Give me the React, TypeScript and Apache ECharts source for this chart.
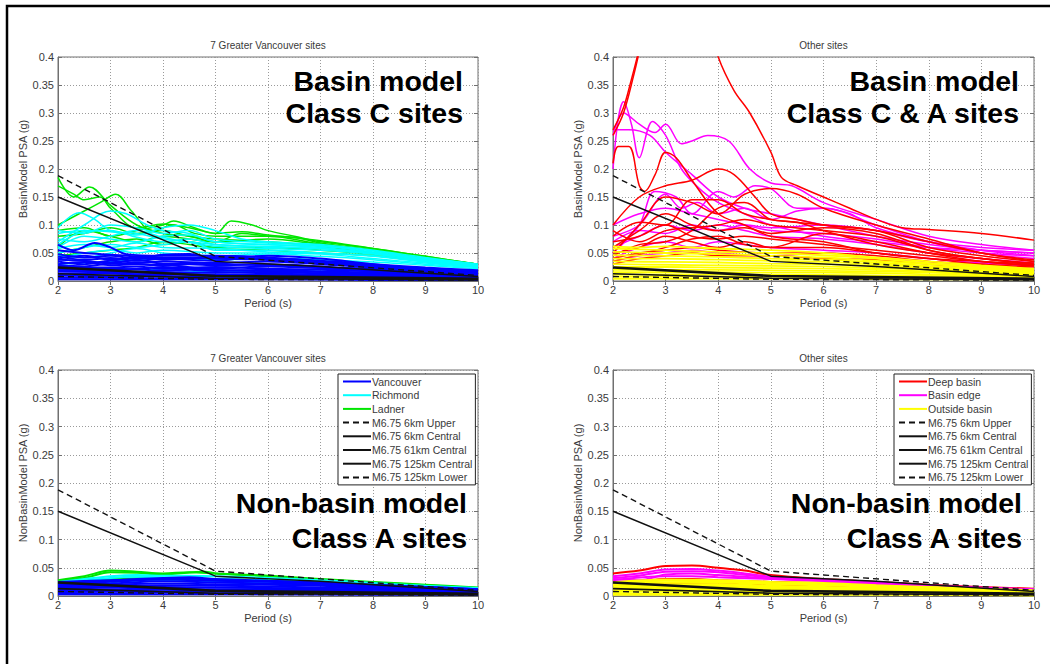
import React, { useEffect, useRef } from "react";
import * as echarts from "echarts";

type Curve = number[][];

// ---------- reference (design) spectra, [period s, PSA g] ----------
const M675_6KM_UPPER: Curve = [[2, 0.188], [5, 0.044], [10, 0.01]];
const M675_6KM_CENTRAL: Curve = [[2, 0.15], [5, 0.035], [7, 0.026], [10, 0.008]];
const M675_61KM_CENTRAL: Curve = [[2, 0.024], [5, 0.009], [10, 0.004]];
const M675_125KM_CENTRAL: Curve = [[2, 0.013], [5, 0.005], [10, 0.002]];
const M675_125KM_LOWER: Curve = [[2, 0.008], [5, 0.003], [10, 0.0015]];

const REF_NAMES = [
  "M6.75 6km Upper",
  "M6.75 6km Central",
  "M6.75 61km Central",
  "M6.75 125km Central",
  "M6.75 125km Lower",
];

// ---------- 7 Greater Vancouver sites, basin model ----------
const GV_BASIN_LADNER: Curve[] = [
  [[2, 0.185], [2.3, 0.15], [2.6, 0.168], [3, 0.135], [3.5, 0.1], [4, 0.085], [4.5, 0.08], [5, 0.07], [6, 0.075], [7, 0.065], [8, 0.055], [9, 0.04], [10, 0.028]],
  [[2, 0.1], [2.5, 0.125], [2.8, 0.14], [3.1, 0.155], [3.4, 0.125], [3.8, 0.09], [4.2, 0.1], [4.6, 0.085], [5, 0.08], [6, 0.08], [7, 0.066], [8, 0.055], [9, 0.042], [10, 0.03]],
  [[2, 0.17], [2.3, 0.155], [2.5, 0.145], [2.8, 0.15], [3, 0.13], [3.5, 0.095], [4, 0.102], [4.5, 0.095], [5, 0.085], [5.3, 0.107], [5.7, 0.1], [6, 0.09], [6.5, 0.08], [7, 0.07], [8, 0.058], [9, 0.044], [10, 0.03]],
  [[2, 0.09], [2.5, 0.095], [3, 0.08], [3.5, 0.09], [4, 0.1], [4.2, 0.107], [4.6, 0.095], [5, 0.085], [5.5, 0.088], [6, 0.082], [7, 0.072], [8, 0.058], [9, 0.044], [10, 0.03]],
  [[2, 0.06], [2.5, 0.09], [3, 0.08], [3.5, 0.07], [4, 0.08], [4.5, 0.075], [5, 0.07], [5.5, 0.085], [6, 0.08], [6.5, 0.078], [7, 0.068], [8, 0.055], [9, 0.042], [10, 0.03]],
  [[2, 0.05], [2.5, 0.06], [3, 0.07], [3.5, 0.075], [4, 0.065], [4.5, 0.07], [5, 0.06], [6, 0.06], [7, 0.055], [8, 0.048], [9, 0.038], [10, 0.027]],
  [[2, 0.045], [2.5, 0.05], [3, 0.055], [3.5, 0.06], [4, 0.07], [4.5, 0.065], [5, 0.058], [6, 0.055], [7, 0.05], [8, 0.045], [9, 0.035], [10, 0.026]],
  [[2, 0.08], [2.5, 0.085], [3, 0.095], [3.5, 0.085], [4, 0.09], [4.5, 0.08], [5, 0.075], [6, 0.07], [7, 0.062], [8, 0.05], [9, 0.04], [10, 0.028]],
];

const GV_BASIN_RICHMOND: Curve[] = [
  [[2, 0.095], [2.4, 0.122], [2.7, 0.11], [3, 0.09], [3.5, 0.085], [4, 0.075], [4.5, 0.07], [5, 0.065], [6, 0.06], [7, 0.058], [8, 0.05], [9, 0.038], [10, 0.028]],
  [[2, 0.07], [2.5, 0.1], [3, 0.125], [3.3, 0.12], [3.7, 0.1], [4, 0.09], [4.5, 0.085], [5, 0.07], [6, 0.065], [7, 0.062], [8, 0.052], [9, 0.04], [10, 0.03]],
  [[2, 0.085], [2.5, 0.09], [3, 0.088], [3.5, 0.082], [4, 0.095], [4.5, 0.1], [5, 0.09], [5.5, 0.075], [6, 0.07], [7, 0.065], [8, 0.055], [9, 0.042], [10, 0.03]],
  [[2, 0.06], [2.5, 0.08], [3, 0.075], [3.5, 0.07], [4, 0.08], [4.5, 0.082], [5, 0.07], [6, 0.065], [7, 0.06], [8, 0.05], [9, 0.04], [10, 0.028]],
  [[2, 0.075], [2.5, 0.07], [3, 0.08], [3.5, 0.09], [4, 0.078], [5, 0.062], [6, 0.058], [7, 0.055], [8, 0.048], [9, 0.036], [10, 0.027]],
  [[2, 0.05], [2.5, 0.06], [3, 0.065], [3.5, 0.06], [4, 0.065], [4.5, 0.07], [5, 0.055], [6, 0.055], [7, 0.05], [8, 0.045], [9, 0.035], [10, 0.026]],
  [[2, 0.04], [2.5, 0.05], [3, 0.055], [3.5, 0.05], [4, 0.055], [5, 0.05], [6, 0.05], [7, 0.048], [8, 0.04], [9, 0.032], [10, 0.025]],
  [[2, 0.045], [2.5, 0.042], [3, 0.05], [3.5, 0.058], [4, 0.05], [5, 0.045], [6, 0.048], [7, 0.044], [8, 0.038], [9, 0.03], [10, 0.024]],
  [[2, 0.065], [2.5, 0.088], [3, 0.09], [3.5, 0.078], [4, 0.07], [4.5, 0.075], [5, 0.065], [6, 0.062], [7, 0.058], [8, 0.05], [9, 0.038], [10, 0.028]],
  [[2, 0.03], [3, 0.035], [4, 0.04], [5, 0.038], [6, 0.04], [7, 0.038], [8, 0.034], [9, 0.028], [10, 0.022]],
  [[2, 0.058], [2.5, 0.065], [3, 0.06], [3.5, 0.068], [4, 0.06], [5, 0.058], [6, 0.052], [7, 0.05], [8, 0.044], [9, 0.034], [10, 0.026]],
  [[2, 0.09], [2.5, 0.085], [3, 0.1], [3.5, 0.095], [4, 0.085], [4.5, 0.09], [5, 0.075], [6, 0.068], [7, 0.063], [8, 0.054], [9, 0.04], [10, 0.029]],
  [[2, 0.025], [3, 0.022], [4, 0.02], [5, 0.016], [6, 0.018], [7, 0.02], [8, 0.018], [9, 0.015], [10, 0.012]],
];

const GV_BASIN_VANCOUVER: Curve[] = [
  [[2, 0.065], [2.3, 0.055], [2.7, 0.068], [3, 0.06], [3.3, 0.048], [4, 0.045], [5, 0.045], [6, 0.042], [7, 0.035], [8, 0.028], [9, 0.022], [10, 0.018]],
  [[2, 0.048], [2.5, 0.042], [3, 0.045], [3.5, 0.04], [4, 0.047], [4.5, 0.048], [5, 0.04], [6, 0.045], [7, 0.04], [8, 0.03], [9, 0.022], [10, 0.017]],
  [[2, 0.04], [2.5, 0.045], [3, 0.038], [3.5, 0.042], [4, 0.038], [4.5, 0.04], [5, 0.043], [6, 0.038], [7, 0.033], [8, 0.026], [9, 0.02], [10, 0.015]],
  [[2, 0.035], [2.5, 0.03], [3, 0.036], [3.5, 0.033], [4, 0.035], [5, 0.032], [6, 0.035], [7, 0.03], [8, 0.024], [9, 0.018], [10, 0.014]],
  [[2, 0.03], [2.5, 0.034], [3, 0.028], [3.5, 0.03], [4, 0.027], [4.5, 0.03], [5, 0.028], [6, 0.03], [7, 0.026], [8, 0.02], [9, 0.016], [10, 0.012]],
  [[2, 0.026], [3, 0.024], [3.5, 0.026], [4, 0.022], [5, 0.025], [6, 0.022], [7, 0.02], [8, 0.018], [9, 0.014], [10, 0.011]],
  [[2, 0.022], [2.5, 0.02], [3, 0.022], [4, 0.019], [4.5, 0.02], [5, 0.018], [6, 0.02], [7, 0.017], [8, 0.015], [9, 0.012], [10, 0.009]],
  [[2, 0.018], [3, 0.017], [4, 0.016], [5, 0.015], [6, 0.016], [7, 0.014], [8, 0.012], [9, 0.01], [10, 0.008]],
  [[2, 0.014], [3, 0.013], [4, 0.012], [5, 0.012], [6, 0.011], [7, 0.01], [8, 0.009], [9, 0.008], [10, 0.006]],
  [[2, 0.01], [3, 0.009], [4, 0.009], [5, 0.008], [6, 0.008], [7, 0.007], [8, 0.006], [9, 0.005], [10, 0.004]],
  [[2, 0.006], [3, 0.006], [4, 0.005], [5, 0.005], [6, 0.005], [7, 0.004], [8, 0.004], [9, 0.003], [10, 0.003]],
  [[2, 0.044], [2.5, 0.038], [3, 0.041], [3.5, 0.036], [4, 0.04], [5, 0.036], [5.5, 0.04], [6, 0.04], [7, 0.036], [8, 0.03], [9, 0.024], [10, 0.019]],
  [[2, 0.038], [2.5, 0.036], [3, 0.032], [3.5, 0.038], [4, 0.031], [5, 0.03], [6, 0.028], [7, 0.024], [8, 0.022], [9, 0.018], [10, 0.015]],
  [[2, 0.028], [2.5, 0.026], [3, 0.031], [4, 0.029], [5, 0.022], [6, 0.026], [7, 0.023], [8, 0.017], [9, 0.014], [10, 0.01]],
  [[2, 0.02], [3, 0.02], [4, 0.024], [5, 0.02], [6, 0.018], [7, 0.016], [8, 0.013], [9, 0.011], [10, 0.008]],
  [[2, 0.055], [2.5, 0.05], [3, 0.047], [3.5, 0.044], [4, 0.042], [5, 0.04], [6, 0.038], [7, 0.032], [8, 0.027], [9, 0.021], [10, 0.016]],
  [[2, 0.012], [3, 0.015], [4, 0.014], [5, 0.01], [6, 0.013], [7, 0.012], [8, 0.01], [9, 0.009], [10, 0.007]],
  [[2, 0.003], [4, 0.003], [6, 0.003], [8, 0.002], [10, 0.002]],
];

// ---------- 7 Greater Vancouver sites, non-basin model ----------
const GV_NONBASIN_LADNER: Curve[] = [
  [[2, 0.028], [2.5, 0.035], [3, 0.045], [3.5, 0.043], [4, 0.04], [4.5, 0.042], [5, 0.04], [6, 0.036], [7, 0.03], [8, 0.025], [9, 0.02], [10, 0.015]],
  [[2, 0.027], [2.5, 0.032], [3, 0.042], [3.5, 0.041], [4, 0.038], [4.8, 0.043], [5, 0.04], [6, 0.035], [7, 0.029], [8, 0.024], [9, 0.019], [10, 0.014]],
  [[2, 0.022], [3, 0.03], [4, 0.032], [5, 0.03], [6, 0.028], [7, 0.024], [8, 0.02], [9, 0.016], [10, 0.012]],
];
const GV_NONBASIN_RICHMOND: Curve[] = [
  [[2, 0.025], [2.5, 0.03], [3, 0.035], [3.5, 0.037], [4, 0.036], [5, 0.035], [6, 0.032], [7, 0.028], [8, 0.023], [9, 0.018], [10, 0.014]],
  [[2, 0.022], [3, 0.032], [3.5, 0.034], [4, 0.033], [5, 0.03], [6, 0.028], [7, 0.025], [8, 0.021], [9, 0.017], [10, 0.013]],
  [[2, 0.02], [3, 0.027], [4, 0.028], [5, 0.026], [6, 0.025], [7, 0.022], [8, 0.019], [9, 0.015], [10, 0.012]],
  [[2, 0.018], [3, 0.024], [4, 0.03], [5, 0.025], [6, 0.022], [7, 0.02], [8, 0.017], [9, 0.014], [10, 0.011]],
];
const GV_NONBASIN_VANCOUVER: Curve[] = [
  [[2, 0.023], [3, 0.027], [3.5, 0.03], [4, 0.032], [4.5, 0.033], [5, 0.03], [6, 0.027], [7, 0.024], [8, 0.02], [9, 0.016], [10, 0.012]],
  [[2, 0.021], [3, 0.025], [4, 0.029], [5, 0.027], [6, 0.025], [7, 0.022], [8, 0.018], [9, 0.015], [10, 0.011]],
  [[2, 0.019], [3, 0.022], [4, 0.026], [5, 0.024], [6, 0.022], [7, 0.02], [8, 0.017], [9, 0.013], [10, 0.01]],
  [[2, 0.017], [3, 0.02], [4, 0.022], [5, 0.021], [6, 0.02], [7, 0.018], [8, 0.015], [9, 0.012], [10, 0.009]],
  [[2, 0.015], [3, 0.017], [4, 0.019], [5, 0.018], [6, 0.017], [7, 0.015], [8, 0.013], [9, 0.011], [10, 0.008]],
  [[2, 0.013], [3, 0.015], [4, 0.016], [5, 0.015], [6, 0.014], [7, 0.013], [8, 0.011], [9, 0.009], [10, 0.007]],
  [[2, 0.011], [3, 0.012], [4, 0.013], [5, 0.012], [6, 0.012], [7, 0.011], [8, 0.009], [9, 0.008], [10, 0.006]],
  [[2, 0.009], [3, 0.01], [4, 0.011], [5, 0.01], [6, 0.01], [7, 0.009], [8, 0.008], [9, 0.006], [10, 0.005]],
  [[2, 0.007], [3, 0.008], [4, 0.008], [5, 0.008], [6, 0.007], [7, 0.007], [8, 0.006], [9, 0.005], [10, 0.004]],
  [[2, 0.005], [3, 0.005], [4, 0.006], [5, 0.005], [6, 0.005], [7, 0.005], [8, 0.004], [9, 0.004], [10, 0.003]],
  [[2, 0.003], [4, 0.003], [6, 0.003], [8, 0.002], [10, 0.002]],
  [[2, 0.025], [3, 0.028], [4, 0.03], [4.5, 0.031], [5, 0.028], [6, 0.026], [7, 0.023], [8, 0.019], [9, 0.016], [10, 0.012]],
];

// ---------- other sites, basin model ----------
const OTHER_BASIN_OUTSIDE: Curve[] = [
  [[2, 0.062], [2.5, 0.06], [3, 0.062], [3.5, 0.06], [4, 0.058], [5, 0.055], [6, 0.05], [7, 0.042], [8, 0.035], [9, 0.028], [10, 0.022]],
  [[2, 0.058], [3, 0.055], [4, 0.052], [5, 0.05], [6, 0.046], [7, 0.04], [8, 0.032], [9, 0.026], [10, 0.02]],
  [[2, 0.052], [3, 0.05], [4, 0.048], [5, 0.045], [6, 0.042], [7, 0.036], [8, 0.03], [9, 0.024], [10, 0.019]],
  [[2, 0.046], [3, 0.045], [4, 0.043], [5, 0.04], [6, 0.038], [7, 0.033], [8, 0.027], [9, 0.022], [10, 0.017]],
  [[2, 0.04], [3, 0.04], [4, 0.038], [5, 0.036], [6, 0.034], [7, 0.03], [8, 0.025], [9, 0.02], [10, 0.016]],
  [[2, 0.035], [3, 0.034], [4, 0.033], [5, 0.031], [6, 0.03], [7, 0.027], [8, 0.022], [9, 0.018], [10, 0.014]],
  [[2, 0.03], [3, 0.029], [4, 0.028], [5, 0.027], [6, 0.026], [7, 0.023], [8, 0.02], [9, 0.016], [10, 0.013]],
  [[2, 0.025], [3, 0.025], [4, 0.024], [5, 0.023], [6, 0.022], [7, 0.02], [8, 0.017], [9, 0.014], [10, 0.011]],
  [[2, 0.02], [3, 0.02], [4, 0.02], [5, 0.019], [6, 0.018], [7, 0.017], [8, 0.015], [9, 0.012], [10, 0.01]],
  [[2, 0.016], [3, 0.016], [4, 0.016], [5, 0.015], [6, 0.015], [7, 0.014], [8, 0.012], [9, 0.01], [10, 0.008]],
  [[2, 0.012], [3, 0.012], [4, 0.012], [5, 0.011], [6, 0.011], [7, 0.01], [8, 0.009], [9, 0.008], [10, 0.006]],
  [[2, 0.008], [3, 0.008], [4, 0.008], [5, 0.008], [6, 0.007], [7, 0.007], [8, 0.006], [9, 0.005], [10, 0.004]],
  [[2, 0.004], [4, 0.004], [6, 0.004], [8, 0.003], [10, 0.003]],
];
const OTHER_BASIN_EDGE: Curve[] = [
  [[2, 0.2], [2.1, 0.29], [2.2, 0.32], [2.35, 0.28], [2.5, 0.22], [2.75, 0.285], [3, 0.26], [3.3, 0.2], [3.7, 0.16], [4, 0.14], [4.5, 0.12], [5, 0.1], [6, 0.08], [7, 0.07], [8, 0.06], [9, 0.055], [10, 0.05]],
  [[2, 0.26], [2.2, 0.3], [2.5, 0.28], [2.8, 0.265], [3, 0.28], [3.3, 0.245], [3.5, 0.25], [3.8, 0.26], [4.2, 0.25], [4.6, 0.2], [5, 0.175], [5.4, 0.17], [6, 0.14], [7, 0.11], [8, 0.08], [9, 0.065], [10, 0.055]],
  [[2, 0.27], [2.3, 0.27], [2.7, 0.26], [3, 0.23], [3.5, 0.19], [4, 0.15], [4.5, 0.13], [5, 0.12], [6, 0.1], [7, 0.08], [8, 0.065], [9, 0.055], [10, 0.05]],
  [[2, 0.05], [2.5, 0.1], [2.8, 0.16], [3.2, 0.15], [3.5, 0.12], [4, 0.16], [4.3, 0.15], [4.7, 0.17], [5, 0.165], [5.5, 0.13], [6, 0.13], [7, 0.1], [8, 0.07], [9, 0.05], [10, 0.04]],
  [[2, 0.08], [2.5, 0.1], [3, 0.155], [3.3, 0.13], [3.6, 0.14], [4, 0.12], [4.5, 0.13], [5, 0.11], [5.5, 0.125], [6, 0.13], [6.5, 0.12], [7, 0.095], [8, 0.07], [9, 0.055], [10, 0.045]],
  [[2, 0.06], [2.5, 0.08], [3, 0.1], [3.5, 0.09], [4, 0.1], [4.5, 0.09], [5, 0.08], [6, 0.075], [7, 0.065], [8, 0.05], [9, 0.04], [10, 0.032]],
  [[2, 0.04], [2.5, 0.06], [3, 0.07], [3.5, 0.06], [4, 0.07], [4.5, 0.065], [5, 0.06], [6, 0.055], [7, 0.05], [8, 0.04], [9, 0.032], [10, 0.027]],
  [[2, 0.035], [2.5, 0.045], [3, 0.05], [3.5, 0.055], [4, 0.05], [5, 0.045], [6, 0.05], [7, 0.04], [8, 0.035], [9, 0.028], [10, 0.022]],
  [[2, 0.07], [2.5, 0.09], [3, 0.085], [3.5, 0.1], [4, 0.09], [4.5, 0.1], [5, 0.095], [6, 0.1], [7, 0.09], [8, 0.07], [9, 0.06], [10, 0.055]],
  [[2, 0.1], [2.5, 0.12], [3, 0.13], [3.5, 0.12], [4, 0.11], [4.5, 0.1], [5, 0.09], [6, 0.085], [7, 0.075], [8, 0.06], [9, 0.05], [10, 0.045]],
];
const OTHER_BASIN_DEEP: Curve[] = [
  [[2, 0.27], [2.2, 0.31], [2.35, 0.36], [2.46, 0.4], [2.6, 0.46]],
  [[2, 0.26], [2.2, 0.3], [2.4, 0.37], [2.5, 0.41]],
  [[2, 0.9], [3, 0.7], [3.5, 0.55], [4, 0.4], [4.3, 0.34], [4.6, 0.3], [5, 0.23], [5.2, 0.185], [5.5, 0.17], [6, 0.15], [6.5, 0.13], [7, 0.11], [7.5, 0.095], [8, 0.092], [9, 0.085], [10, 0.073]],
  [[2, 0.21], [2.1, 0.24], [2.3, 0.24], [2.5, 0.17], [2.6, 0.16], [2.8, 0.19], [3, 0.23], [3.2, 0.22], [3.5, 0.18], [4, 0.12], [4.5, 0.1], [5, 0.08], [6, 0.07], [7, 0.05], [8, 0.04], [9, 0.035], [10, 0.03]],
  [[2, 0.1], [2.5, 0.15], [3, 0.17], [3.5, 0.18], [4, 0.2], [4.3, 0.19], [4.7, 0.15], [5, 0.12], [5.5, 0.11], [6, 0.1], [7, 0.09], [8, 0.07], [9, 0.05], [10, 0.035]],
  [[2, 0.05], [2.5, 0.1], [3, 0.15], [3.5, 0.14], [4, 0.12], [4.5, 0.155], [5, 0.165], [5.5, 0.155], [6, 0.13], [7, 0.1], [8, 0.075], [9, 0.05], [10, 0.038]],
  [[2, 0.08], [2.5, 0.105], [3, 0.1], [3.5, 0.145], [4, 0.145], [4.5, 0.12], [5, 0.11], [6, 0.1], [7, 0.09], [8, 0.06], [9, 0.045], [10, 0.035]],
  [[2, 0.06], [2.5, 0.09], [3, 0.12], [3.5, 0.1], [4, 0.09], [4.5, 0.095], [5, 0.085], [6, 0.095], [7, 0.085], [8, 0.055], [9, 0.04], [10, 0.03]],
  [[2, 0.07], [2.5, 0.08], [3, 0.1], [3.5, 0.08], [4, 0.075], [4.5, 0.08], [5, 0.075], [6, 0.065], [7, 0.055], [8, 0.045], [9, 0.035], [10, 0.028]],
  [[2, 0.05], [2.5, 0.06], [3, 0.08], [3.5, 0.07], [4, 0.06], [4.5, 0.07], [5, 0.06], [6, 0.06], [7, 0.05], [8, 0.04], [9, 0.03], [10, 0.025]],
  [[2, 0.04], [2.5, 0.05], [3, 0.055], [3.5, 0.06], [4, 0.055], [5, 0.05], [6, 0.05], [7, 0.045], [8, 0.035], [9, 0.03], [10, 0.022]],
  [[2, 0.03], [2.5, 0.04], [3, 0.045], [3.5, 0.05], [4, 0.045], [5, 0.045], [6, 0.04], [7, 0.038], [8, 0.03], [9, 0.025], [10, 0.02]],
  [[2, 0.035], [3, 0.06], [3.5, 0.075], [4, 0.08], [4.5, 0.065], [5, 0.06], [6, 0.085], [7, 0.07], [8, 0.05], [9, 0.035], [10, 0.027]],
  [[2, 0.09], [2.5, 0.07], [3, 0.09], [3.5, 0.095], [4, 0.1], [4.5, 0.11], [5, 0.1], [6, 0.09], [7, 0.08], [8, 0.055], [9, 0.04], [10, 0.032]],
  [[2, 0.045], [2.5, 0.065], [3, 0.07], [3.5, 0.09], [4, 0.13], [4.5, 0.14], [5, 0.11], [5.5, 0.105], [6, 0.09], [7, 0.065], [8, 0.05], [9, 0.04], [10, 0.03]],
];

// ---------- other sites, non-basin model ----------
const OTHER_NONBASIN_OUTSIDE: Curve[] = [
  [[2, 0.024], [3, 0.029], [4, 0.028], [5, 0.025], [6, 0.023], [7, 0.019], [8, 0.016], [9, 0.013], [10, 0.01]],
  [[2, 0.022], [3, 0.027], [4, 0.026], [5, 0.023], [6, 0.021], [7, 0.018], [8, 0.015], [9, 0.012], [10, 0.009]],
  [[2, 0.02], [3, 0.024], [4, 0.024], [5, 0.021], [6, 0.019], [7, 0.016], [8, 0.013], [9, 0.011], [10, 0.008]],
  [[2, 0.018], [3, 0.021], [4, 0.021], [5, 0.018], [6, 0.016], [7, 0.014], [8, 0.012], [9, 0.01], [10, 0.007]],
  [[2, 0.015], [3, 0.018], [4, 0.018], [5, 0.016], [6, 0.014], [7, 0.012], [8, 0.01], [9, 0.008], [10, 0.006]],
  [[2, 0.013], [3, 0.016], [4, 0.016], [5, 0.014], [6, 0.013], [7, 0.011], [8, 0.009], [9, 0.008], [10, 0.006]],
  [[2, 0.012], [3, 0.014], [4, 0.014], [5, 0.012], [6, 0.011], [7, 0.01], [8, 0.009], [9, 0.007], [10, 0.005]],
  [[2, 0.01], [3, 0.012], [4, 0.012], [5, 0.011], [6, 0.01], [7, 0.009], [8, 0.007], [9, 0.006], [10, 0.005]],
  [[2, 0.007], [3, 0.009], [4, 0.009], [5, 0.008], [6, 0.007], [7, 0.006], [8, 0.005], [9, 0.004], [10, 0.004]],
  [[2, 0.004], [3, 0.005], [4, 0.005], [5, 0.005], [6, 0.004], [7, 0.004], [8, 0.003], [9, 0.003], [10, 0.002]],
  [[2, 0.002], [4, 0.002], [6, 0.002], [8, 0.002], [10, 0.001]],
];
const OTHER_NONBASIN_EDGE: Curve[] = [
  [[2, 0.035], [2.5, 0.04], [3, 0.047], [3.5, 0.048], [4, 0.045], [4.5, 0.04], [5, 0.034], [6, 0.029], [7, 0.024], [8, 0.019], [9, 0.015], [10, 0.012]],
  [[2, 0.032], [2.5, 0.036], [3, 0.043], [3.5, 0.044], [4, 0.042], [5, 0.033], [6, 0.028], [7, 0.023], [8, 0.018], [9, 0.014], [10, 0.012]],
  [[2, 0.028], [3, 0.035], [3.5, 0.035], [4, 0.033], [5, 0.03], [6, 0.026], [7, 0.021], [8, 0.017], [9, 0.013], [10, 0.011]],
  [[2, 0.03], [2.5, 0.028], [3, 0.038], [3.5, 0.04], [4, 0.037], [5, 0.031], [6, 0.027], [7, 0.022], [8, 0.018], [9, 0.014], [10, 0.011]],
];
const OTHER_NONBASIN_DEEP: Curve[] = [
  [[2, 0.04], [2.5, 0.045], [3, 0.053], [3.5, 0.054], [4, 0.05], [4.5, 0.045], [5, 0.037], [6, 0.03], [7, 0.025], [8, 0.02], [9, 0.016], [10, 0.013]],
  [[2, 0.025], [2.5, 0.026], [3, 0.03], [3.5, 0.03], [4, 0.028], [5, 0.025], [6, 0.023], [7, 0.02], [8, 0.017], [9, 0.014], [10, 0.011]],
  [[2, 0.02], [3, 0.022], [4, 0.024], [5, 0.02], [6, 0.018], [7, 0.016], [8, 0.014], [9, 0.012], [10, 0.01]],
];

const PANEL_TITLES = ["7 Greater Vancouver sites", "Other sites", "7 Greater Vancouver sites", "Other sites"];
const Y_AXIS_NAMES = ["BasinModel PSA (g)", "BasinModel PSA (g)", "NonBasinModel PSA (g)", "NonBasinModel PSA (g)"];
const X_AXIS_NAME = "Period (s)";
const ANNOTATIONS = [
  ["Basin model", "Class C sites"],
  ["Basin model", "Class C & A sites"],
  ["Non-basin model", "Class A sites"],
  ["Non-basin model", "Class A sites"],
];
const GV_LEGEND = ["Vancouver", "Richmond", "Ladner", ...REF_NAMES];
const OTHER_LEGEND = ["Deep basin", "Basin edge", "Outside basin", ...REF_NAMES];

// ---------- layout ----------
const GRIDS = [
  { left: 58, top: 57, width: 420, height: 224 },
  { left: 613, top: 57, width: 421, height: 224 },
  { left: 58, top: 370, width: 420, height: 226 },
  { left: 613, top: 370, width: 421, height: 226 },
];
const FONT = "'Liberation Sans', Arial, Helvetica, sans-serif";
const COLORS: Record<string, string> = {
  Vancouver: "#0000ff",
  Richmond: "#00ffff",
  Ladner: "#00e600",
  "Deep basin": "#ff0000",
  "Basin edge": "#ff00ff",
  "Outside basin": "#ffff00",
};

function curveSeries(name: string, curves: Curve[], panel: number, width = 1.5) {
  return curves.map((c) => ({
    type: "line",
    name,
    xAxisIndex: panel,
    yAxisIndex: panel,
    data: c,
    symbol: "none",
    showSymbol: false,
    smooth: 0.35,
    clip: true,
    silent: true,
    z: 2,
    lineStyle: { color: COLORS[name], width },
    itemStyle: { color: COLORS[name] },
  }));
}

function refSeries(panel: number) {
  const defs: [string, Curve, number, any][] = [
    [REF_NAMES[0], M675_6KM_UPPER, 1.4, [6, 4]],
    [REF_NAMES[1], M675_6KM_CENTRAL, 1.4, "solid"],
    [REF_NAMES[2], M675_61KM_CENTRAL, 2.6, "solid"],
    [REF_NAMES[3], M675_125KM_CENTRAL, 1.6, "solid"],
    [REF_NAMES[4], M675_125KM_LOWER, 1.4, [6, 4]],
  ];
  return defs.map(([name, data, width, type]) => ({
    type: "line",
    name,
    xAxisIndex: panel,
    yAxisIndex: panel,
    data,
    symbol: "none",
    showSymbol: false,
    clip: true,
    silent: true,
    z: 4,
    lineStyle: { color: "#111", width, type },
    itemStyle: { color: "#111" },
  }));
}

function buildOption() {
  const series: any[] = [
    ...curveSeries("Ladner", GV_BASIN_LADNER, 0),
    ...curveSeries("Richmond", GV_BASIN_RICHMOND, 0),
    ...curveSeries("Vancouver", GV_BASIN_VANCOUVER, 0, 2),
    ...refSeries(0),
    ...curveSeries("Basin edge", OTHER_BASIN_EDGE, 1),
    ...curveSeries("Deep basin", OTHER_BASIN_DEEP, 1),
    ...curveSeries("Outside basin", OTHER_BASIN_OUTSIDE, 1, 1.8),
    ...refSeries(1),
    ...curveSeries("Ladner", GV_NONBASIN_LADNER, 2, 2),
    ...curveSeries("Richmond", GV_NONBASIN_RICHMOND, 2, 2),
    ...curveSeries("Vancouver", GV_NONBASIN_VANCOUVER, 2, 2),
    ...refSeries(2),
    ...curveSeries("Deep basin", OTHER_NONBASIN_DEEP, 3, 2),
    ...curveSeries("Basin edge", OTHER_NONBASIN_EDGE, 3, 2),
    ...curveSeries("Outside basin", OTHER_NONBASIN_OUTSIDE, 3, 2),
    ...refSeries(3),
  ];

  const axisColor = "#707070";
  const labelColor = "#3a3a3a";
  const gridLine = { show: true, lineStyle: { color: "#9a9a9a", width: 1, type: [1, 2] } };

  const xAxis: any[] = GRIDS.map((_, i) => ({
    gridIndex: i,
    type: "value",
    min: 2,
    max: 10,
    interval: 1,
    name: X_AXIS_NAME,
    nameLocation: "middle",
    nameGap: 16,
    nameTextStyle: { fontSize: 11, color: labelColor, fontFamily: FONT },
    axisLine: { show: true, onZero: false, lineStyle: { color: axisColor, width: 1 } },
    axisTick: { show: true, inside: true, length: 4, lineStyle: { color: axisColor } },
    axisLabel: { fontSize: 11, color: labelColor, margin: 3, fontFamily: FONT },
    splitLine: gridLine,
  }));
  // mirrored top axes (ticks only), as in the MATLAB box
  GRIDS.forEach((_, i) => {
    xAxis.push({
      gridIndex: i,
      type: "value",
      position: "top",
      min: 2,
      max: 10,
      interval: 1,
      axisLine: { show: false },
      axisTick: { show: true, inside: true, length: 4, lineStyle: { color: axisColor } },
      axisLabel: { show: false },
      splitLine: { show: false },
    });
  });

  const yAxis: any[] = GRIDS.map((_, i) => ({
    gridIndex: i,
    type: "value",
    min: 0,
    max: 0.4,
    interval: 0.05,
    name: Y_AXIS_NAMES[i],
    nameLocation: "middle",
    nameGap: 25,
    nameTextStyle: { fontSize: 11, color: labelColor, fontFamily: FONT },
    axisLine: { show: true, onZero: false, lineStyle: { color: axisColor, width: 1 } },
    axisTick: { show: true, inside: true, length: 4, lineStyle: { color: axisColor } },
    axisLabel: { fontSize: 11, color: labelColor, margin: 4, fontFamily: FONT },
    splitLine: gridLine,
  }));
  GRIDS.forEach((_, i) => {
    yAxis.push({
      gridIndex: i,
      type: "value",
      position: "right",
      min: 0,
      max: 0.4,
      interval: 0.05,
      axisLine: { show: false },
      axisTick: { show: true, inside: true, length: 4, lineStyle: { color: axisColor } },
      axisLabel: { show: false },
      splitLine: { show: false },
    });
  });

  const grid = GRIDS.map((g) => ({
    ...g,
    show: true,
    borderColor: axisColor,
    borderWidth: 1,
    backgroundColor: "#ffffff",
    containLabel: false,
  }));

  const legendBase = {
    orient: "vertical",
    top: 374,
    backgroundColor: "#ffffff",
    borderColor: "#222",
    borderWidth: 1,
    borderRadius: 0,
    padding: [2, 3, 2, 4],
    itemGap: 2.7,
    itemWidth: 28,
    itemHeight: 11,
    selectedMode: false,
    itemStyle: { opacity: 0 },
    textStyle: { fontSize: 10.5, color: labelColor, fontFamily: FONT, padding: [0, 0, 0, -4] },
    z: 10,
  };

  const graphic: any[] = [
    {
      type: "rect",
      shape: { x: 7, y: 6, width: 1100, height: 720 },
      style: { fill: "none", stroke: "#000", lineWidth: 2.5 },
      silent: true,
      z: 100,
    },
  ];
  GRIDS.forEach((g, i) => {
    graphic.push({
      type: "text",
      x: g.left + g.width / 2,
      y: i < 2 ? 45 : 358,
      silent: true,
      style: {
        text: PANEL_TITLES[i],
        fill: labelColor,
        fontSize: 10,
        fontFamily: FONT,
        align: "center",
        verticalAlign: "middle",
        textAlign: "center",
        textVerticalAlign: "middle",
      },
    });
  });
  const annotRight = [463, 1019, 467, 1022];
  const annotY = [[80.5, 113], [80.5, 113], [503, 537.5], [503, 537.5]];
  ANNOTATIONS.forEach((lines, i) => {
    lines.forEach((t, j) => {
      graphic.push({
        type: "text",
        x: annotRight[i],
        y: annotY[i][j],
        silent: true,
        z: 20,
        style: {
          text: t,
          fill: "#000",
          fontSize: 28.5,
          fontWeight: "bold",
          fontFamily: FONT,
          align: "right",
          verticalAlign: "middle",
          textAlign: "right",
          textVerticalAlign: "middle",
        },
      });
    });
  });

  return {
    animation: false,
    backgroundColor: "#ffffff",
    textStyle: { fontFamily: FONT },
    grid,
    xAxis,
    yAxis,
    legend: [
      { ...legendBase, left: 338, data: GV_LEGEND },
      { ...legendBase, left: 894, data: OTHER_LEGEND },
    ],
    graphic,
    series,
  };
}

export default function App() {
  const ref = useRef<HTMLDivElement>(null);
  useEffect(() => {
    if (!ref.current) return;
    const chart = echarts.init(ref.current, undefined, { renderer: "svg" });
    chart.setOption(buildOption() as any);
    return () => chart.dispose();
  }, []);
  return (
    <div
      ref={ref}
      style={{ position: "fixed", left: 0, top: 0, width: 1050, height: 664, background: "#fff" }}
    />
  );
}
